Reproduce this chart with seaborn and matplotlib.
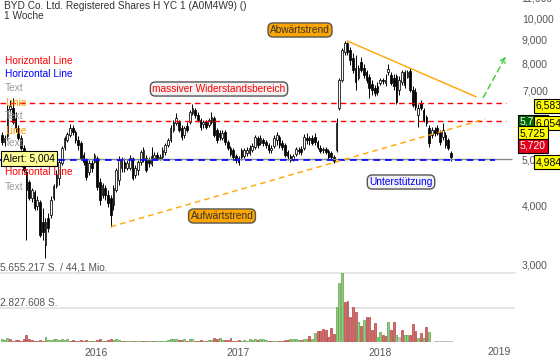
import matplotlib
matplotlib.use('Agg')
import matplotlib.pyplot as plt
import matplotlib.dates as mdates
from matplotlib.ticker import NullLocator, NullFormatter
import seaborn as sns
import pandas as pd

W, H = 560, 362

# weekly candles, BYD H shares (EUR)
start_week = '2015-05-04'
opens = [5.64, 5.45, 5.60, 6.41, 6.44, 6.13, 5.83, 5.56, 5.29, 4.70,
         4.49, 4.15, 4.27, 3.98, 4.06, 3.68, 3.29, 3.76, 3.81, 4.15,
         4.40, 4.57, 4.92, 5.32, 5.50, 5.64, 5.83, 5.72, 5.50, 5.42,
         5.12, 4.99, 4.70, 4.92, 4.94, 5.04, 4.49, 4.21, 4.36, 4.21,
         4.15, 4.00, 4.31, 4.53, 4.80, 4.94, 4.80, 4.80, 5.04, 4.64,
         4.75, 4.94, 5.04, 5.04, 4.99, 4.89, 5.04, 5.12, 5.04, 5.07,
         5.19, 5.37, 5.50, 5.78, 5.98, 6.01, 5.83, 5.64, 5.89, 6.01,
         6.28, 6.38, 6.22, 6.07, 5.95, 6.01, 5.92, 6.01, 6.13, 5.78,
         5.69, 5.56, 5.72, 5.45, 5.29, 5.24, 5.09, 5.04, 5.24, 5.09,
         5.17, 5.17, 5.24, 5.32, 5.56, 5.42, 5.50, 5.45, 5.37, 5.24,
         5.34, 5.50, 5.58, 5.42, 5.37, 5.19, 5.09, 5.02, 5.14, 5.24,
         5.27, 5.29, 5.56, 5.50, 5.56, 5.58, 5.45, 5.29, 5.24, 5.27,
         5.22, 5.17, 5.07, 5.24, 6.44, 7.38, 8.47, 8.85, 8.55, 8.23,
         7.83, 7.46, 8.06, 7.83, 7.68, 7.49, 7.24, 7.10, 7.17, 7.28,
         7.38, 7.28, 7.68, 7.57, 7.46, 7.53, 7.03, 7.31, 7.68, 7.49,
         7.72, 7.03, 6.96, 6.22, 6.60, 6.38, 6.16, 5.83, 5.64, 5.78,
         5.83, 5.72, 5.58, 5.64, 5.50, 5.17]
highs = [5.72, 5.64, 6.53, 6.70, 6.77, 6.32, 5.92, 5.64, 5.37, 4.75,
         4.53, 4.36, 4.31, 4.19, 4.10, 3.94, 3.76, 3.85, 4.19, 4.44,
         4.75, 4.99, 5.34, 5.61, 5.72, 5.95, 5.92, 5.78, 5.61, 5.47,
         5.19, 5.04, 4.99, 4.99, 5.17, 5.09, 4.57, 4.46, 4.42, 4.31,
         4.21, 4.42, 4.80, 5.09, 5.07, 5.04, 4.99, 5.12, 5.07, 4.87,
         4.99, 5.24, 5.32, 5.12, 5.07, 5.32, 5.19, 5.19, 5.14, 5.32,
         5.42, 5.56, 5.92, 6.07, 6.28, 6.07, 5.92, 5.89, 6.01, 6.38,
         6.57, 6.44, 6.32, 6.13, 6.07, 6.07, 6.13, 6.32, 6.19, 5.83,
         5.78, 5.78, 5.78, 5.50, 5.34, 5.29, 5.14, 5.09, 5.29, 5.29,
         5.32, 5.37, 5.42, 5.64, 5.61, 5.64, 5.56, 5.50, 5.42, 5.37,
         5.64, 5.72, 5.64, 5.50, 5.42, 5.24, 5.14, 5.14, 5.32, 5.32,
         5.34, 5.67, 5.69, 5.61, 5.64, 5.69, 5.50, 5.37, 5.32, 5.32,
         5.27, 5.22, 5.12, 6.13, 7.46, 8.64, 8.94, 8.89, 8.68, 8.43,
         8.35, 7.95, 8.27, 7.99, 7.75, 7.61, 7.38, 7.21, 7.31, 7.46,
         7.46, 7.61, 7.99, 7.68, 7.61, 7.61, 7.53, 7.75, 7.75, 7.75,
         7.83, 7.17, 7.10, 6.57, 6.70, 6.44, 6.22, 5.92, 5.86, 5.86,
         5.92, 5.78, 5.98, 5.72, 5.56, 5.22]
lows = [5.37, 5.34, 5.50, 6.32, 5.95, 5.72, 5.50, 5.24, 4.70, 3.37,
        4.10, 4.06, 3.91, 3.91, 3.43, 3.37, 3.09, 3.51, 3.76, 4.10,
        4.36, 4.42, 4.87, 5.24, 5.45, 5.58, 5.64, 5.42, 5.24, 4.99,
        4.87, 4.53, 4.64, 4.70, 4.92, 4.31, 4.00, 4.15, 4.10, 3.96,
        3.60, 3.91, 4.27, 4.42, 4.70, 4.70, 4.75, 4.75, 4.53, 4.57,
        4.64, 4.87, 4.94, 4.70, 4.82, 4.85, 4.99, 4.99, 4.99, 5.02,
        5.12, 5.32, 5.45, 5.72, 5.92, 5.72, 5.50, 5.56, 5.72, 5.95,
        6.22, 6.13, 6.01, 5.78, 5.83, 5.81, 5.86, 5.95, 5.58, 5.42,
        5.50, 5.50, 5.37, 5.24, 5.09, 4.99, 4.92, 4.87, 4.99, 5.04,
        5.09, 5.12, 5.19, 5.27, 5.29, 5.37, 5.34, 5.29, 5.17, 5.17,
        5.29, 5.37, 5.29, 5.24, 5.07, 4.99, 4.94, 4.97, 5.09, 5.14,
        5.12, 5.24, 5.40, 5.37, 5.37, 5.37, 5.27, 5.17, 5.17, 5.14,
        5.02, 4.99, 4.92, 5.19, 6.38, 7.31, 8.35, 8.35, 7.95, 7.64,
        7.03, 7.38, 7.68, 7.46, 7.28, 6.77, 6.86, 6.83, 6.86, 7.21,
        7.24, 7.17, 7.57, 7.21, 7.03, 6.57, 6.86, 7.21, 7.10, 7.46,
        6.96, 6.47, 6.38, 5.86, 6.38, 6.01, 5.89, 5.32, 5.56, 5.61,
        5.64, 5.37, 5.50, 5.29, 5.24, 4.97]
closes = [5.45, 5.56, 6.41, 6.50, 6.01, 5.83, 5.56, 5.29, 4.75, 4.31,
          4.15, 4.31, 3.94, 4.10, 3.46, 3.51, 3.68, 3.58, 4.10, 4.40,
          4.64, 4.94, 5.29, 5.56, 5.67, 5.83, 5.72, 5.50, 5.37, 5.04,
          4.94, 4.59, 4.92, 4.80, 5.12, 4.38, 4.10, 4.42, 4.21, 4.04,
          3.81, 4.36, 4.75, 4.99, 4.99, 4.80, 4.92, 5.04, 4.57, 4.80,
          4.94, 5.19, 5.24, 4.75, 4.92, 5.09, 5.12, 5.04, 5.07, 5.24,
          5.37, 5.50, 5.83, 6.01, 6.13, 5.78, 5.58, 5.83, 5.78, 6.32,
          6.44, 6.22, 6.07, 5.86, 6.01, 5.86, 6.07, 6.16, 5.64, 5.50,
          5.58, 5.69, 5.45, 5.29, 5.14, 5.07, 4.99, 4.94, 5.07, 5.24,
          5.24, 5.29, 5.34, 5.58, 5.37, 5.56, 5.42, 5.37, 5.24, 5.29,
          5.56, 5.64, 5.37, 5.32, 5.12, 5.09, 4.99, 5.09, 5.27, 5.22,
          5.19, 5.58, 5.50, 5.56, 5.42, 5.45, 5.32, 5.22, 5.27, 5.19,
          5.07, 5.07, 4.97, 5.98, 7.38, 8.55, 8.85, 8.47, 8.14, 7.75,
          7.31, 7.83, 7.75, 7.57, 7.38, 7.10, 7.03, 6.93, 6.96, 7.38,
          7.35, 7.38, 7.79, 7.28, 7.17, 6.63, 7.38, 7.68, 7.21, 7.68,
          7.03, 6.53, 6.47, 6.44, 6.44, 6.07, 5.98, 5.42, 5.78, 5.69,
          5.69, 5.45, 5.78, 5.37, 5.29, 5.07]

# weekly volume, million shares; g = up, r = down, x = neutral
volumes = [0.25, 0.16, 0.33, 0.21, 0.12, 0.16, 0.16, 0.12, 0.21, 0.57,
           0.25, 0.16, 0.12, 0.12, 0.16, 0.12, 0.39, 0.16, 0.16, 0.21,
           0.21, 0.16, 0.25, 0.16, 0.21, 0.12, 0.16, 0.12, 0.12, 0.16,
           0.12, 0.16, 0.12, 0.08, 0.12, 0.16, 0.21, 0.12, 0.12, 0.16,
           0.25, 0.16, 0.21, 0.16, 0.12, 0.08, 0.12, 0.12, 0.08, 0.08,
           0.08, 0.12, 0.08, 0.08, 0.08, 0.12, 0.08, 0.08, 0.08, 0.12,
           0.12, 0.16, 0.21, 0.21, 0.25, 0.16, 0.16, 0.21, 0.12, 0.25,
           0.21, 0.12, 0.12, 0.16, 0.12, 0.12, 0.16, 0.16, 0.33, 0.25,
           0.33, 0.16, 0.16, 0.16, 0.33, 0.12, 0.12, 0.16, 0.12, 0.16,
           0.12, 0.21, 0.16, 0.21, 0.16, 0.21, 0.21, 0.16, 0.12, 0.12,
           0.08, 0.12, 0.12, 0.12, 0.16, 0.16, 0.25, 0.21, 0.25, 0.16,
           0.16, 0.21, 0.25, 0.47, 0.25, 0.74, 0.88, 0.90, 1.07, 0.96,
           0.41, 1.17, 0.68, 2.87, 4.84, 5.655, 3.25, 3.36, 2.05, 2.87,
           2.46, 1.64, 1.29, 1.80, 2.05, 2.05, 0.96, 1.58, 0.41, 0.82,
           0.60, 0.52, 1.64, 0.96, 1.64, 0.55, 0.41, 0.96, 0.60, 0.55,
           0.60, 1.50, 0.88, 0.35, 0.74, 0.35, 1.23, 0.82, 0.0, 0.06,
           0.06, 0.06, 0.06, 0.06, 0.06, 0.06]
vol_dir = ("gggrrrrrrr" "rrrrrrgggg" "gggggrrrrr" "rrgrgrrgrr" "rggggrggrg"
           "ggrrggrggg" "gggggrrgrg" "grrrgrggrr" "ggrrrrrrgg" "ggggrgggrr"
           "ggrrrrgggg" "rggrg"
           "grrrrrrrgggrrrrrgrgrrrrggrrgrrgxrggrrrgrgrg" "xxxxxxxx")
vol_max = 5.655217

year_ticks = ['2016', '2017', '2018']
price_ticks = [3, 4, 5, 6, 7, 8, 9, 10]

resistance_hi = 6.583
resistance_lo = 6.054
support = 4.984
alert_level = 5.004

down_trend_dates = ['2017-10-08', '2018-09-05']
down_trend_prices = [8.94, 6.80]
up_trend_dates = ['2016-02-08', '2018-09-28']
up_trend_prices = [3.60, 6.10]
target_dates = ['2018-09-20', '2018-11-24']
target_prices = [6.70, 8.39]


def dn(s):
    return mdates.date2num(pd.Timestamp(s))


def fx(x):
    return x / W


def fy(y):
    return 1 - y / H


sns.set_style('white')
plt.rcParams['font.family'] = ['Liberation Sans', 'DejaVu Sans']
FS = 7.3

fig = plt.figure(figsize=(W / 100, H / 100), dpi=100)
fig.patch.set_facecolor('white')
axv = fig.add_axes([0, 20 / H, 515 / W, 69 / H])
ax = fig.add_axes([0, 20 / H, 515 / W, 342 / H], sharex=axv)
ax.patch.set_alpha(0)

x0, x1 = dn('2015-04-29'), dn('2018-12-14')
dates = mdates.date2num(pd.date_range(start_week, periods=len(closes), freq='7D'))

# volume
fc_map = {'g': '#93cd7e', 'r': '#d76b6b', 'x': '#c8c8c8'}
ec_map = {'g': '#5d9e47', 'r': '#b04545', 'x': '#aaaaaa'}
axv.bar(dates, volumes, width=5.0, color=[fc_map[c] for c in vol_dir],
        edgecolor=[ec_map[c] for c in vol_dir], lw=0.5, zorder=2)
axv.axhline(vol_max, color='#e4e4e4', lw=1.3, clip_on=False, zorder=1)
axv.axhline(vol_max / 2, color='#e4e4e4', lw=1.3, zorder=1)
axv.set_ylim(0, vol_max)
axv.set_yticks([])
axv.tick_params(axis='x', labelbottom=False, length=0)
for s in axv.spines.values():
    s.set_visible(False)

# candles
for d, o, hi, lo, c in zip(dates, opens, highs, lows, closes):
    ax.vlines(d, lo, hi, color='black', lw=0.7, zorder=3)
    ax.bar(d, max(abs(c - o), 0.02), bottom=min(o, c), width=4.3,
           color='white' if c >= o else 'black', edgecolor='black', lw=0.55, zorder=4)

# horizontal lines
ax.hlines([resistance_hi, resistance_lo], x0, dn('2018-11-21'), colors='#ff0000',
          linestyles=(0, (4, 3)), lw=1.0, zorder=5)
ax.hlines(alert_level, x0, dn('2018-12-07'), colors='#888888', lw=1.0, zorder=5)
ax.hlines(support, x0, dn('2018-10-24'), colors='#0000ff',
          linestyles=(0, (4, 3)), lw=1.2, zorder=6)

# trend lines
sns.lineplot(x=[dn(s) for s in down_trend_dates], y=down_trend_prices, ax=ax,
             color='#ffa500', lw=1.0, zorder=6)
sns.lineplot(x=[dn(s) for s in up_trend_dates], y=up_trend_prices, ax=ax,
             color='#ffa500', lw=1.0, linestyle=(0, (4, 3)), zorder=6)
ax.annotate('', xy=(dn(target_dates[1]), target_prices[1]),
            xytext=(dn(target_dates[0]), target_prices[0]),
            arrowprops=dict(arrowstyle='->', color='#33cc33', lw=1.0,
                            linestyle=(0, (4, 3)), mutation_scale=9), zorder=7)

ax.set_xlim(x0, x1)
ax.set_yscale('log')
ax.set_ylim(2.048, 10.923)
ax.yaxis.tick_right()
ax.set_yticks(price_ticks)
ax.set_yticklabels([f'{v:.3f}'.replace('.', ',') for v in price_ticks])
ax.yaxis.set_minor_locator(NullLocator())
ax.yaxis.set_minor_formatter(NullFormatter())
ax.set_xticks([dn(f'{y}-01-01') for y in year_ticks])
ax.set_xticklabels(year_ticks)
ax.tick_params(axis='both', length=0, labelsize=7.5, labelcolor='#555555')
ax.tick_params(axis='y', pad=5)
ax.tick_params(axis='x', pad=4)
ax.set_xlabel('')
ax.set_ylabel('')
for s in ax.spines.values():
    s.set_visible(False)

fig.text(fx(521), fy(-1.4), '11,000', color='#555555', fontsize=7.5, va='center')
fig.text(fx(499), fy(352), '2019', color='#555555', fontsize=7.5, ha='center', va='center')

# header
fig.text(fx(4), fy(6), 'BYD Co. Ltd. Registered Shares H YC 1 (A0M4W9) ()',
         color='#333333', fontsize=FS, va='center')
fig.text(fx(4), fy(16), '1 Woche', color='#333333', fontsize=FS, va='center')

# left labels
left_labels = [(61, 'Horizontal Line', '#ff0000'), (74, 'Horizontal Line', '#0000ff'),
               (88, 'Text', '#999999'), (103, 'Linie', '#ff9900'),
               (116, 'Text', '#999999'), (131, 'Linie', '#ff9900'),
               (143, 'Text', '#999999'), (172, 'Horizontal Line', '#ff0000'),
               (187, 'Text', '#999999')]
for y, s, c in left_labels:
    fig.text(fx(5), fy(y), s, color=c, fontsize=FS, va='center')
fig.text(fx(3), fy(158.5), 'Alert: 5,004', color='black', fontsize=FS, va='center',
         bbox=dict(boxstyle='square,pad=0.2', fc='#ffff99', ec='black', lw=0.8))

# annotation boxes
notes = [(219, 89, 'massiver Widerstandsbereich', '#ff0000', '#f2f2f2'),
         (300, 30, 'Abwärtstrend', '#333333', '#ffa500'),
         (222, 216, 'Aufwärtstrend', '#333333', '#ffa500'),
         (401, 182, 'Unterstützung', '#0000ff', '#f2f2f2')]
for x, y, s, tc, bc in notes:
    fig.text(fx(x), fy(y), s, color=tc, fontsize=FS, ha='center', va='center',
             bbox=dict(boxstyle='round,pad=0.2,rounding_size=0.5', fc=bc, ec='#555555', lw=1.0))

# price tags on the right
tags = [(536, 106, '6,583', '#ffff00', 'black'),
        (520, 121.5, '5,720', '#006600', 'white'),
        (536, 123, '6,054', '#ffff00', 'black'),
        (520, 133, '5,725', '#ffff00', 'black'),
        (520, 146, '5,720', '#e2001a', 'white'),
        (536, 162, '4,984', '#ffff00', 'black')]
for x, y, s, bc, tc in tags:
    fig.text(fx(x), fy(y), s, color=tc, fontsize=7.5, va='center',
             bbox=dict(boxstyle='square,pad=0.15', fc=bc, ec='black', lw=0.8))

# volume labels
fig.text(fx(0), fy(268), '5.655.217 S. / 44,1 Mio.', color='#555555', fontsize=FS, va='center')
fig.text(fx(0), fy(303), '2.827.608 S.', color='#555555', fontsize=FS, va='center')

fig.savefig('out.png', dpi=100)
